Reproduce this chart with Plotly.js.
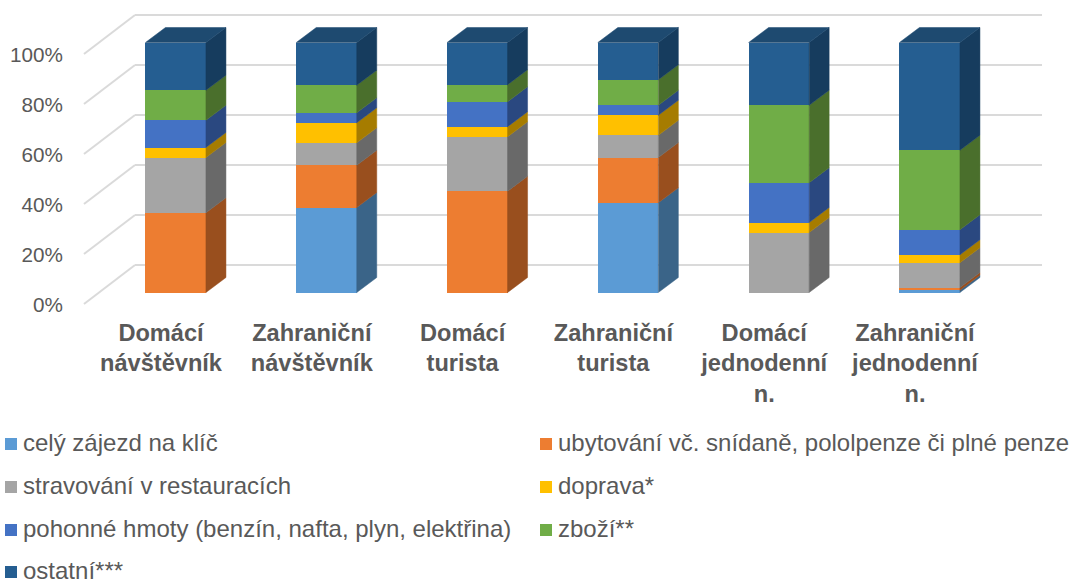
<!DOCTYPE html>
<html><head><meta charset="utf-8">
<script src="https://cdn.plot.ly/plotly-3.0.1.min.js"></script>
<style>html,body{margin:0;padding:0;background:#fff}#c{width:1072px;height:581px}</style>
</head><body><div id="c"></div>
<script>
const categories = ["Domácí<br>návštěvník","Zahraniční<br>návštěvník","Domácí<br>turista","Zahraniční<br>turista","Domácí<br>jednodenní<br>n.","Zahraniční<br>jednodenní<br>n."];
const seriesNames = ["celý zájezd na klíč","ubytování vč. snídaně, pololpenze či plné penze","stravování v restauracích","doprava*","pohonné hmoty (benzín, nafta, plyn, elektřina)","zboží**","ostatní***"];
const celyZajezd = [0, 34, 0, 35.9, 0, 0.9];
const ubytovani  = [31.9, 16.9, 40.5, 18.1, 0, 1.1];
const stravovani = [22.1, 9, 21.8, 8.9, 24, 9.9];
const doprava    = [4, 8, 4, 8, 4, 3.2];
const pohonne    = [10.9, 4, 10, 4, 15.9, 10];
const zbozi      = [12, 11, 6.8, 10.2, 31, 31.8];
const ostatni    = [19.1, 17.1, 16.9, 14.9, 25.1, 43.1];
const seriesValues = [celyZajezd, ubytovani, stravovani, doprava, pohonne, zbozi, ostatni];
const frontColors = ["#5B9BD5","#ED7D31","#A5A5A5","#FFC000","#4472C4","#70AD47","#255E91"];
const sideColors  = ["#3A6488","#994F1E","#696969","#A67C00","#2A4880","#4A6F2C","#163C5E"];
const topColor = "#1E4A70";
const percentTicks = [0,20,40,60,80,100];
const percentLabels = ["0%","20%","40%","60%","80%","100%"];

const W=1072,H=581;
const plotL=135,plotR=1042,plotT=10,plotB=310;
const unit=150.8,c0=175.7,labelC0=161;   // px per category, px of first bar / label
const pct=2.5;                           // px per percent
const barW=60.5/unit, depthX=20/unit, depthY=15/pct;
const floorPxX=84, floorY=-39/pct;
const xDomain=[plotL/W,plotR/W], yDomain=[1-plotB/H,1-plotT/H];
const rng=(zero)=>[(zero-plotB)/pct,(zero-plotT)/pct];
const xr=(c)=>[(plotL-c)/unit,(plotR-c)/unit];
const xs=categories.map((_,i)=>i);

const traces=[];
// anchor traces so each axis exists
traces.push({type:'scatter',mode:'none',x:[0],y:[0],xaxis:'x',yaxis:'y',hoverinfo:'skip',showlegend:false});
traces.push({type:'scatter',mode:'none',x:[0],y:[0],xaxis:'x2',yaxis:'y3',hoverinfo:'skip',showlegend:false});
// front faces
seriesNames.forEach((n,s)=>traces.push({type:'bar',name:n,x:xs,y:seriesValues[s],width:barW,xaxis:'x2',yaxis:'y2',
  marker:{color:frontColors[s],line:{width:0}},hoverinfo:'skip',showlegend:false}));
// side faces and top
const base=xs.map(()=>0);
seriesNames.forEach((n,s)=>{
  const px=[],py=[];
  xs.forEach(i=>{
    const v=seriesValues[s][i]; if(!v) return;
    const x=i+barW/2,b=base[i],t=b+v;
    px.push(x,x+depthX,x+depthX,x,x,null);
    py.push(b,b+depthY,t+depthY,t,b,null);
    base[i]=t;
  });
  traces.push({type:'scatter',mode:'lines',x:px,y:py,fill:'toself',fillcolor:sideColors[s],
    line:{width:0.5,color:sideColors[s]},xaxis:'x2',yaxis:'y2',hoverinfo:'skip',showlegend:false,cliponaxis:false});
});
const tx=[],ty=[];
xs.forEach(i=>{const l=i-barW/2,r=i+barW/2,t=base[i];
  tx.push(l,r,r+depthX,l+depthX,l,null);ty.push(t,t,t+depthY,t+depthY,t,null);});
traces.push({type:'scatter',mode:'lines',x:tx,y:ty,fill:'toself',fillcolor:topColor,line:{width:0.5,color:topColor},
  xaxis:'x2',yaxis:'y2',hoverinfo:'skip',showlegend:false,cliponaxis:false});

const shapes=[],annotations=[];
// wall depth lines
percentTicks.forEach(v=>shapes.push({type:'line',xref:'paper',yref:'y3',x0:plotL/W,x1:floorPxX/W,y0:v,y1:v+floorY,
  line:{color:'#DADADA',width:2},layer:'below'}));
// legend drawn as swatches + text
const legendRows=[444,487,530,572], legendCols=[5,540];
seriesNames.forEach((n,s)=>{
  const cx=legendCols[s%2],cy=legendRows[Math.floor(s/2)];
  shapes.push({type:'rect',xref:'paper',yref:'paper',x0:cx/W,x1:(cx+12)/W,y0:1-(cy+6)/H,y1:1-(cy-6)/H,
    fillcolor:frontColors[s],line:{width:0}});
  annotations.push({xref:'paper',yref:'paper',x:(cx+16.5)/W,y:1-(cy-2)/H,xanchor:'left',yanchor:'middle',showarrow:false,
    text:n,borderpad:0,font:{family:'"Liberation Sans",Arial,sans-serif',size:24,color:'#595959'}});
});

const layout={
  width:W,height:H,margin:{l:0,r:0,t:0,b:0},paper_bgcolor:'#fff',plot_bgcolor:'rgba(0,0,0,0)',
  barmode:'stack',showlegend:false,hovermode:false,shapes,annotations,
  font:{family:'"Liberation Sans",Arial,sans-serif',color:'#595959'},
  xaxis:{domain:xDomain,range:xr(labelC0),tickmode:'array',tickvals:xs,ticktext:categories,anchor:'y',
    showgrid:false,zeroline:false,showline:false,ticks:'',ticklabelstandoff:6,tickangle:0,
    tickfont:{size:23.6,weight:'bold',color:'#595959'}},
  xaxis2:{domain:xDomain,range:xr(c0),overlaying:'x',anchor:'y2',visible:false},
  yaxis:{domain:yDomain,range:rng(305),tickmode:'array',tickvals:percentTicks,ticktext:percentLabels,anchor:'free',position:63/W,
    showgrid:false,zeroline:false,showline:false,ticks:'',tickfont:{size:20.7,color:'#595959'}},
  yaxis2:{domain:yDomain,range:rng(292.5),overlaying:'y',anchor:'x2',visible:false},
  yaxis3:{domain:yDomain,range:rng(265),overlaying:'y',anchor:'x2',tickmode:'array',tickvals:percentTicks,showticklabels:false,
    showgrid:true,gridcolor:'#DADADA',gridwidth:2,zeroline:false,showline:false,ticks:''}
};
Plotly.newPlot('c',traces,layout,{displayModeBar:false,staticPlot:true});
</script></body></html>
